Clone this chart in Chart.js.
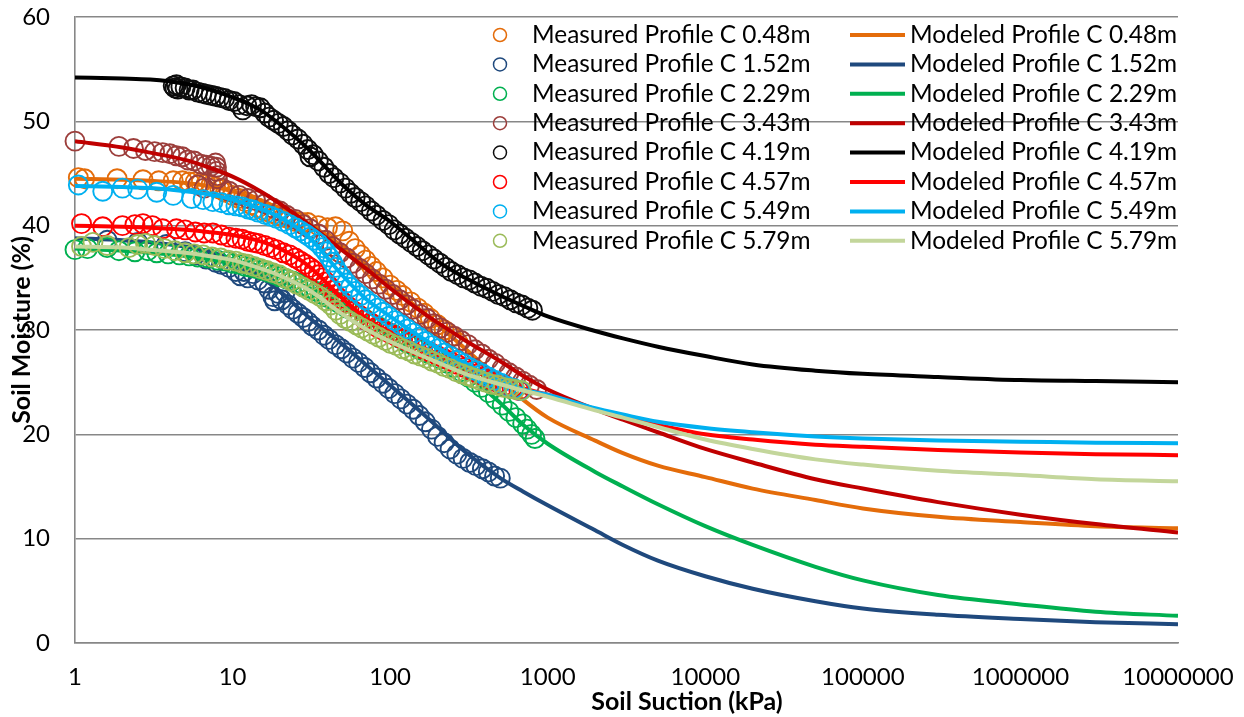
<!DOCTYPE html>
<html>
<head>
<meta charset="utf-8">
<script src="https://cdn.jsdelivr.net/npm/chart.js@4.4.1/dist/chart.umd.min.js"></script>
<style>
html,body{margin:0;padding:0;background:#fff;}
#wrap{width:1244px;height:717px;position:relative;}
</style>
</head>
<body>
<div id="wrap"><canvas id="c" width="1244" height="717"></canvas></div>
<script>
// ---------- DATA ----------
const depthLabels = ['0.48m', '1.52m', '2.29m', '3.43m', '4.19m', '4.57m', '5.49m', '5.79m'];
const xTickValues = [1, 10, 100, 1000, 10000, 100000, 1000000, 10000000];
const xTickLabels = ['1', '10', '100', '1000', '10000', '100000', '1000000', '10000000'];
const xAxisTitle = 'Soil Suction (kPa)';
const yAxisTitle = 'Soil Moisture (%)';

// Modeled curves (shared suction values)
const modelSuction = [1, 2, 3, 5, 7, 10, 15, 20, 30, 50, 70, 100, 150, 200, 300, 500, 700, 1000, 2000, 3000, 5000, 10000, 20000, 50000, 100000, 300000, 1000000, 3000000, 10000000];
const model048 = [44.5, 44.4, 44.3, 44.1, 43.8, 43.3, 42.4, 41.6, 40.2, 38.0, 36.3, 34.3, 32.1, 30.5, 28.2, 25.2, 23.3, 21.6, 19.4, 18.2, 17.0, 15.9, 14.8, 13.7, 12.9, 12.1, 11.6, 11.2, 11.0];
const model152 = [38.8, 38.6, 38.4, 38.0, 37.5, 36.6, 35.1, 33.7, 31.3, 28.6, 26.7, 24.7, 22.4, 20.7, 18.3, 15.8, 14.5, 13.2, 10.8, 9.4, 7.9, 6.4, 5.2, 4.0, 3.3, 2.7, 2.3, 2.0, 1.8];
const model229 = [37.8, 37.6, 37.4, 37.1, 36.8, 36.4, 35.7, 35.1, 34.1, 32.5, 31.1, 29.7, 28.3, 27.3, 25.8, 23.0, 20.9, 19.1, 16.4, 15.0, 13.3, 11.2, 9.4, 7.3, 6.0, 4.6, 3.7, 3.0, 2.6];
const model343 = [48.1, 47.5, 47.0, 46.3, 45.6, 44.7, 43.3, 42.1, 40.2, 37.6, 35.9, 34.0, 32.0, 30.7, 29.0, 27.0, 25.6, 24.3, 22.4, 21.4, 20.2, 18.6, 17.3, 15.7, 14.8, 13.5, 12.3, 11.4, 10.6];
const model419 = [54.2, 54.1, 54.0, 53.6, 53.1, 52.3, 51.1, 49.7, 47.4, 43.9, 42.0, 40.4, 38.2, 36.6, 35.0, 33.3, 32.3, 31.3, 29.9, 29.2, 28.4, 27.5, 26.7, 26.1, 25.8, 25.5, 25.2, 25.1, 25.0];
const model457 = [40.0, 39.9, 39.8, 39.6, 39.4, 39.1, 38.5, 37.8, 36.2, 33.0, 31.1, 29.8, 28.5, 27.7, 26.5, 25.0, 24.4, 23.8, 22.4, 21.7, 20.9, 20.0, 19.5, 19.0, 18.8, 18.5, 18.25, 18.1, 18.0];
const model549 = [43.8, 43.7, 43.6, 43.3, 43.0, 42.5, 41.6, 40.8, 39.0, 35.2, 33.0, 31.3, 29.5, 28.3, 26.8, 25.1, 24.3, 23.8, 22.5, 21.9, 21.2, 20.6, 20.2, 19.8, 19.6, 19.4, 19.3, 19.2, 19.15];
const model579 = [38.0, 37.9, 37.7, 37.4, 37.1, 36.7, 35.9, 35.2, 33.9, 31.5, 30.1, 28.9, 27.7, 26.9, 25.8, 24.8, 24.2, 23.6, 22.3, 21.6, 20.7, 19.5, 18.6, 17.6, 17.1, 16.5, 16.1, 15.7, 15.5];

// Measured points
const m048Suction = [1.05, 1.15, 1.85, 2.7, 3.4, 4.2, 4.8, 5.3, 5.8, 6.3, 6.8, 7.3, 7.8, 8.3, 9, 10, 11, 12, 13.2, 14.5, 16, 17.5, 19, 21, 23, 25, 27.5, 30, 35, 40, 45, 50, 55, 60, 65, 70, 76, 82, 90, 100, 110, 120, 135, 150, 165, 180, 200, 220, 245, 270];
const m048Moisture = [44.6, 44.5, 44.5, 44.4, 44.3, 44.3, 44.3, 44.2, 44.2, 44.1, 44.0, 43.9, 43.7, 43.5, 43.2, 42.9, 42.6, 42.3, 42.0, 41.7, 41.4, 41.2, 41.0, 40.8, 40.6, 40.4, 40.3, 40.3, 40.0, 39.8, 39.9, 39.5, 38.5, 37.8, 37.2, 36.7, 36.1, 35.6, 35.0, 34.3, 33.8, 33.3, 32.7, 32.1, 31.6, 31.1, 30.5, 30.0, 29.4, 28.8];

const m152Suction = [1.6, 2.5, 3.8, 5.0, 5.8, 6.8, 7.8, 8.5, 9.5, 10.5, 11.2, 11.8, 12.5, 13.5, 14.5, 16, 17, 18, 18.5, 19.5, 20.5, 21.5, 22.5, 24, 26, 28, 30, 32, 35, 38, 41, 45, 49, 53, 58, 63, 69, 75, 82, 90, 98, 107, 117, 128, 140, 153, 167, 183, 200, 220, 240, 265, 290, 320, 350, 385, 420, 460, 500];
const m152Moisture = [38.6, 38.4, 38.2, 37.5, 37.2, 36.8, 36.5, 36.3, 36.0, 35.6, 35.2, 35.6, 35.0, 35.4, 34.8, 34.5, 33.9, 33.2, 32.8, 33.5, 32.9, 33.6, 32.4, 32.0, 31.6, 31.2, 30.8, 30.4, 30.0, 29.5, 29.1, 28.6, 28.2, 27.8, 27.3, 26.9, 26.4, 25.9, 25.4, 24.9, 24.4, 23.9, 23.4, 22.9, 22.4, 21.8, 21.2, 20.5, 19.8, 19.2, 18.6, 18.1, 17.7, 17.3, 17.0, 16.7, 16.4, 16.0, 15.8];

const m229Suction = [1.0, 1.2, 1.6, 1.9, 2.4, 2.9, 3.3, 3.9, 4.6, 5.3, 6.0, 7.0, 8.0, 9.0, 10, 11, 12, 13, 14, 15.5, 17, 18.5, 20, 22, 24, 26, 28.5, 31, 34, 37, 40, 44, 48, 53, 58, 64, 70, 77, 85, 94, 104, 115, 127, 140, 155, 171, 189, 209, 231, 255, 282, 312, 345, 381, 421, 465, 514, 568, 628, 694, 740, 790, 830];
const m229Moisture = [37.7, 37.8, 37.9, 37.6, 37.5, 37.6, 37.4, 37.3, 37.2, 37.1, 37.0, 36.9, 36.7, 36.6, 36.4, 36.3, 36.1, 36.0, 35.9, 35.7, 35.5, 35.3, 35.1, 34.9, 34.7, 34.5, 34.2, 34.0, 33.7, 33.4, 33.1, 32.8, 32.5, 32.1, 31.8, 31.4, 31.0, 30.6, 30.3, 29.9, 29.6, 29.2, 28.8, 28.5, 28.1, 27.8, 27.5, 27.2, 26.8, 26.4, 26.0, 25.5, 25.0, 24.5, 24.0, 23.4, 22.8, 22.2, 21.6, 21.0, 20.5, 20.0, 19.6];

const m343Suction = [1.0, 1.9, 2.35, 2.8, 3.2, 3.6, 4.0, 4.4, 4.8, 5.2, 5.7, 6.3, 6.8, 7.3, 7.8, 7.9, 7.9, 8.0, 8.0, 6.0, 6.6, 8.6, 9.5, 11, 12.5, 14, 16, 18, 20, 22, 25, 28, 31, 35, 39, 43, 48, 53, 58, 64, 70, 77, 85, 94, 104, 115, 127, 140, 155, 171, 189, 209, 231, 255, 282, 312, 345, 381, 421, 465, 514, 568, 628, 694, 767, 850];
const m343Moisture = [48.1, 47.6, 47.4, 47.2, 47.1, 47.0, 46.9, 46.7, 46.6, 46.3, 46.2, 45.9, 45.8, 45.7, 46.0, 45.6, 45.2, 44.8, 44.5, 43.9, 43.6, 43.6, 43.3, 42.9, 42.6, 42.4, 42.1, 41.7, 41.4, 41.0, 40.6, 40.1, 39.7, 39.2, 38.6, 38.0, 37.4, 36.9, 36.4, 35.9, 35.4, 34.9, 34.4, 33.9, 33.4, 32.9, 32.4, 32.0, 31.5, 31.1, 30.6, 30.2, 29.8, 29.4, 29.0, 28.6, 28.1, 27.7, 27.2, 26.8, 26.3, 25.9, 25.5, 25.1, 24.7, 24.3];

const m419Suction = [4.2, 4.3, 4.4, 4.5, 4.7, 5.0, 5.3, 5.6, 6.0, 6.4, 6.8, 7.3, 7.8, 8.3, 8.9, 9.5, 10.2, 11, 11.6, 12.3, 13.2, 14, 15, 16, 17, 18.2, 19.5, 21, 22.5, 24, 26, 28, 30, 31, 32.5, 35, 38, 41, 44, 48, 52, 56, 60, 65, 70, 76, 82, 90, 98, 106, 115, 125, 136, 148, 160, 175, 190, 207, 225, 245, 268, 292, 318, 345, 376, 410, 447, 487, 530, 578, 630, 686, 748, 800];
const m419Moisture = [53.4, 53.2, 53.5, 53.1, 53.3, 53.2, 53.0, 53.0, 52.8, 52.7, 52.6, 52.5, 52.4, 52.3, 52.2, 52.0, 51.9, 51.6, 51.1, 51.5, 51.6, 51.4, 51.3, 50.8, 50.4, 50.1, 49.8, 49.5, 49.1, 48.7, 48.3, 47.8, 47.3, 46.6, 46.8, 46.2, 45.6, 45.0, 44.6, 44.1, 43.6, 43.1, 42.7, 42.3, 41.9, 41.4, 41.0, 40.5, 40.1, 39.6, 39.2, 38.8, 38.4, 38.0, 37.6, 37.2, 36.8, 36.4, 36.0, 35.6, 35.3, 35.0, 34.8, 34.5, 34.2, 34.0, 33.7, 33.4, 33.2, 32.9, 32.6, 32.4, 32.1, 31.9];

const m457Suction = [1.1, 1.5, 2.0, 2.4, 2.7, 3.1, 3.6, 4.4, 5.0, 5.8, 6.6, 7.5, 8.5, 9.5, 10.5, 11.5, 12.5, 13.5, 14.5, 16, 17.5, 19, 21, 23, 25, 27, 29, 31, 33, 35, 37, 39, 41, 43, 45, 48, 51, 55, 59, 64, 69, 75, 82, 90, 99, 109, 120, 132, 146, 161, 178, 197, 218, 241, 267, 295, 326, 360, 398, 440, 486, 537, 594, 656];
const m457Moisture = [40.2, 39.9, 40.0, 40.1, 40.2, 40.0, 39.7, 39.7, 39.6, 39.4, 39.3, 39.3, 39.1, 38.9, 38.8, 38.7, 38.5, 38.4, 38.3, 38.1, 37.9, 37.7, 37.4, 37.2, 36.9, 36.6, 36.3, 36.0, 35.7, 35.3, 35.0, 34.6, 34.2, 33.8, 33.4, 33.0, 32.6, 32.2, 31.8, 31.4, 31.0, 30.7, 30.3, 30.0, 29.7, 29.4, 29.1, 28.8, 28.5, 28.2, 27.9, 27.6, 27.3, 27.0, 26.7, 26.4, 26.1, 25.8, 25.5, 25.2, 24.9, 24.7, 24.4, 24.2];

const m549Suction = [1.05, 1.5, 2.0, 2.5, 3.3, 4.2, 5.5, 6.5, 7.5, 8.5, 9.5, 10.5, 11.5, 12.5, 13.5, 14.5, 16, 17.5, 19, 21, 23, 25, 27, 29, 31, 33, 35, 37, 39, 41, 43, 45, 47, 50, 53, 56, 60, 65, 70, 76, 83, 90, 98, 107, 117, 128, 140, 153, 167, 183, 200, 220, 240, 265, 290, 320, 350, 385, 420, 460, 505, 555, 610, 670];
const m549Moisture = [43.9, 43.3, 43.6, 43.5, 43.2, 42.9, 42.6, 42.5, 42.3, 42.2, 42.0, 41.9, 41.8, 41.6, 41.5, 41.3, 41.1, 40.9, 40.7, 40.4, 40.1, 39.8, 39.5, 39.2, 38.9, 38.6, 38.3, 37.9, 37.5, 37.0, 36.5, 36.0, 35.5, 35.0, 34.5, 34.1, 33.7, 33.3, 32.9, 32.5, 32.1, 31.7, 31.3, 30.9, 30.5, 30.1, 29.7, 29.3, 28.9, 28.5, 28.2, 27.8, 27.5, 27.1, 26.8, 26.4, 26.1, 25.8, 25.5, 25.2, 24.9, 24.6, 24.4, 24.2];

const m579Suction = [1.1, 1.3, 1.6, 2.2, 2.5, 2.8, 3.2, 3.7, 4.3, 5.0, 5.7, 6.5, 7.4, 8.4, 9.4, 10.5, 11.5, 12.5, 13.7, 15, 16.5, 18, 19.7, 21.5, 23.5, 25.5, 28, 30.5, 33, 36, 39, 42, 45, 48, 52, 56, 61, 66, 72, 78, 85, 93, 101, 110, 120, 131, 143, 156, 170, 185, 202, 220, 240, 262, 285, 311, 339, 370, 403, 440, 480, 523, 570, 620, 680];
const m579Moisture = [38.0, 38.4, 38.1, 37.9, 38.2, 38.3, 38.1, 37.8, 37.6, 37.4, 37.3, 37.2, 37.0, 36.9, 36.7, 36.6, 36.4, 36.3, 36.1, 35.9, 35.7, 35.5, 35.3, 35.0, 34.7, 34.4, 34.1, 33.8, 33.5, 33.2, 32.8, 32.4, 31.9, 31.5, 31.1, 30.8, 30.5, 30.2, 29.9, 29.6, 29.3, 29.0, 28.7, 28.5, 28.2, 28.0, 27.7, 27.5, 27.3, 27.0, 26.8, 26.5, 26.3, 26.0, 25.8, 25.6, 25.4, 25.2, 25.0, 24.8, 24.7, 24.5, 24.4, 24.3, 24.2];

// ---------- STYLE ----------
const measuredColors = ['#E46C0A', '#1F497D', '#00B050', '#9C3E3B', '#0D0D0D', '#FF0000', '#00B0F0', '#9BBB59'];
const modeledColors  = ['#E46C0A', '#1F497D', '#00B050', '#C00000', '#000000', '#FF0000', '#00B0F0', '#C3D69B'];
const FONT = 'Lato';
const GRID = '#878787';

const measuredSets = [
  [m048Suction, m048Moisture], [m152Suction, m152Moisture], [m229Suction, m229Moisture], [m343Suction, m343Moisture],
  [m419Suction, m419Moisture], [m457Suction, m457Moisture], [m549Suction, m549Moisture], [m579Suction, m579Moisture]
];
const modelSets = [model048, model152, model229, model343, model419, model457, model549, model579];

const datasets = [];
let n = 0;
depthLabels.forEach((d, i) => {
  const [sx, sy] = measuredSets[i];
  datasets.push({
    label: 'Measured Profile C ' + d,
    data: sx.map((x, k) => ({x: x, y: sy[k]})),
    showLine: false,
    pointStyle: 'circle',
    pointRadius: 9.5,
    pointBorderWidth: 1.9,
    borderColor: measuredColors[i],
    pointBorderColor: measuredColors[i],
    backgroundColor: 'rgba(0,0,0,0)',
    pointBackgroundColor: 'rgba(0,0,0,0)',
    clip: false,
    order: 100 - (n++)
  });
  datasets.push({
    label: 'Modeled Profile C ' + d,
    data: modelSuction.map((x, k) => ({x: x, y: modelSets[i][k]})),
    showLine: true,
    borderColor: modeledColors[i],
    borderWidth: 4,
    pointRadius: 0,
    cubicInterpolationMode: 'monotone',
    fill: false,
    order: 100 - (n++)
  });
});

const overlay = {
  id: 'overlay',
  afterDraw(chart) {
    const ctx = chart.ctx;
    ctx.save();
    // axis titles
    ctx.fillStyle = '#000';
    ctx.font = 'bold 25px ' + FONT;
    ctx.textAlign = 'center';
    ctx.textBaseline = 'middle';
    ctx.fillText(xAxisTitle, 687, 702);
    ctx.save();
    ctx.translate(22, 330);
    ctx.rotate(-Math.PI / 2);
    ctx.fillText(yAxisTitle, 0, 0);
    ctx.restore();
    // legend (two columns)
    ctx.font = '24.4px ' + FONT;
    ctx.textAlign = 'left';
    depthLabels.forEach((d, i) => {
      const y = 35 + i * 29.4;
      const mds = chart.data.datasets[2 * i];
      const lds = chart.data.datasets[2 * i + 1];
      ctx.beginPath();
      ctx.arc(500, y, 6.5, 0, Math.PI * 2);
      ctx.lineWidth = 1.5;
      ctx.strokeStyle = mds.borderColor;
      ctx.stroke();
      ctx.fillStyle = '#000';
      ctx.fillText(mds.label, 532, y);
      ctx.beginPath();
      ctx.moveTo(850, y);
      ctx.lineTo(905, y);
      ctx.lineWidth = 4;
      ctx.strokeStyle = lds.borderColor;
      ctx.stroke();
      ctx.fillText(lds.label, 910, y);
    });
    ctx.restore();
  }
};

new Chart(document.getElementById('c'), {
  type: 'scatter',
  data: { datasets: datasets },
  plugins: [overlay],
  options: {
    responsive: false,
    animation: false,
    devicePixelRatio: 1,
    events: [],
    layout: { padding: { top: 17, right: 66, bottom: 0, left: 0 } },
    plugins: { legend: { display: false }, tooltip: { enabled: false }, title: { display: false } },
    scales: {
      x: {
        type: 'logarithmic',
        min: 1, max: 10000000,
        afterFit: s => { s.height = 74; s.paddingLeft = 0; s.paddingRight = 0; },
        afterBuildTicks: s => { s.ticks = xTickValues.map(v => ({ value: v })); },
        grid: { display: false, drawTicks: false },
        border: { display: true, color: GRID, width: 1.6 },
        ticks: {
          autoSkip: false, maxRotation: 0, minRotation: 0, padding: 20,
          color: '#000', font: { family: FONT, size: 24 },
          callback: (v, i) => xTickLabels[i]
        }
      },
      y: {
        min: 0, max: 60,
        afterFit: s => { s.width = 75; s.paddingTop = 0; s.paddingBottom = 0; },
        grid: { color: GRID, lineWidth: 1.6, drawTicks: false },
        border: { display: true, color: GRID, width: 1.6 },
        ticks: { stepSize: 10, padding: 25, color: '#000', font: { family: FONT, size: 24 } }
      }
    }
  }
});
</script>
</body>
</html>
